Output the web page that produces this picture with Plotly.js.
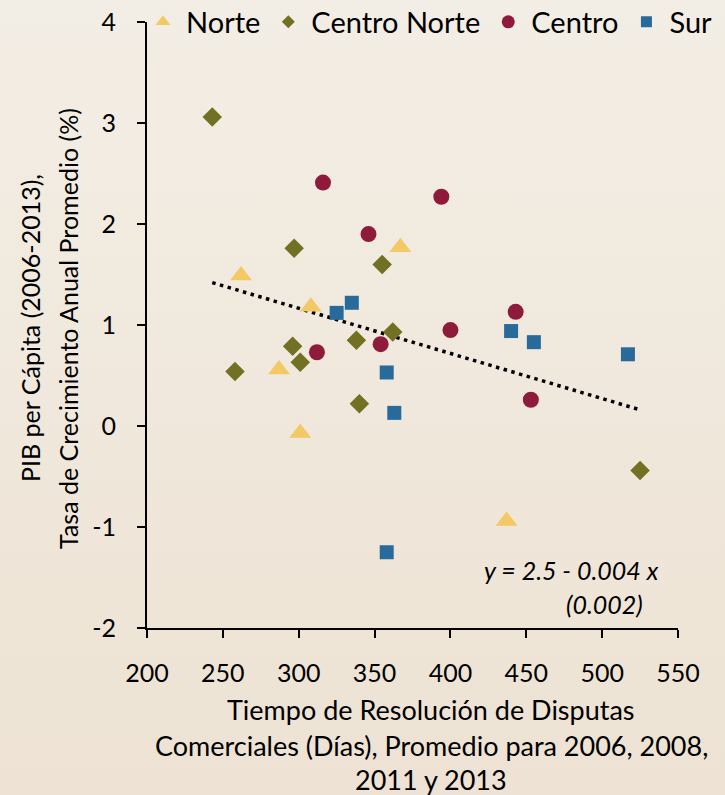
<!DOCTYPE html>
<html>
<head>
<meta charset="utf-8">
<script src="https://cdn.plot.ly/plotly-3.0.1.min.js"></script>
<style>
  html, body { margin: 0; padding: 0; }
  body { width: 725px; height: 795px; background: linear-gradient(to bottom, #F3EEE5 0%, #EDE2D3 100%); }
  #chart { width: 725px; height: 795px; }
</style>
</head>
<body>
<div id="chart"></div>
<script>
// ---- data ----
const regions = ["Norte", "Centro Norte", "Centro", "Sur"];

const norteX = [262, 367, 308, 287, 301, 437];
const norteY = [1.49, 1.77, 1.18, 0.56, -0.07, -0.94];

const centroNorteX = [243, 297, 355, 258, 296, 301, 338, 362, 340, 525];
const centroNorteY = [3.06, 1.76, 1.60, 0.54, 0.79, 0.63, 0.85, 0.93, 0.22, -0.44];

const centroX = [316, 346, 394, 312, 354, 400, 443, 453];
const centroY = [2.41, 1.90, 2.27, 0.73, 0.81, 0.95, 1.13, 0.26];

const surX = [325, 335, 358, 363, 440, 455, 517, 358];
const surY = [1.12, 1.22, 0.53, 0.13, 0.94, 0.83, 0.71, -1.25];

// fitted line as drawn (endpoints)
const trendX = [243, 525];
const trendY = [1.42, 0.16];

const xTicks = [200, 250, 300, 350, 400, 450, 500, 550];
const yTicks = [-2, -1, 0, 1, 2, 3, 4];

const equationText = "y = 2.5 - 0.004 x";
const seText = "(0.002)";
const xTitleLines = ["Tiempo de Resolución de Disputas", "Comerciales (Días), Promedio para 2006, 2008,", "2011 y 2013"];
const yTitleLines = ["PIB per Cápita (2006-2013),", "Tasa de Crecimiento Anual Promedio (%)"];

// ---- styles ----
const FONT = "Lato, 'Open Sans', sans-serif";
const colors = ["#F2C964", "#727023", "#8E1B3C", "#286B9B"];
const symbols = ["triangle-up", "diamond", "circle", "square"];
const sizes = [19, 15, 16, 14];
const legendSizes = [13, 10, 13, 11];

const seriesX = [norteX, centroNorteX, centroX, surX];
const seriesY = [norteY, centroNorteY, centroY, surY];

const traces = [];
traces.push({
  x: trendX, y: trendY, mode: "lines", type: "scatter", showlegend: false,
  line: { color: "#000000", width: 3.5, dash: "3.5px,4.5px" }, hoverinfo: "skip"
});
for (let i = 0; i < regions.length; i++) {
  traces.push({
    x: seriesX[i], y: seriesY[i], mode: "markers", type: "scatter", name: regions[i],
    showlegend: false,
    marker: { symbol: symbols[i], size: sizes[i], color: colors[i], line: { width: 0 } }
  });
}
// legend entries (smaller symbols as in the reference)
for (let i = 0; i < regions.length; i++) {
  traces.push({
    x: [null], y: [null], mode: "markers", type: "scatter", name: regions[i],
    showlegend: true,
    marker: { symbol: symbols[i], size: legendSizes[i], color: colors[i], line: { width: 0 } }
  });
}

const axisCommon = {
  showline: true, linecolor: "#000000", linewidth: 2,
  ticks: "outside", ticklen: 8, tickwidth: 2, tickcolor: "#000000",
  showgrid: false, zeroline: false,
  tickfont: { family: FONT, size: 25, color: "#000000" }
};

const xTitleY = [-0.1353, -0.1931, -0.2492];
const titleAnnotations = xTitleLines.map((t, i) => ({
  xref: "paper", yref: "paper", x: 0.535, y: xTitleY[i], xanchor: "center", yanchor: "middle",
  text: t, showarrow: false, font: { family: FONT, size: 27, color: "#000000" }
}));

const layout = {
  width: 725, height: 795,
  margin: { l: 147, r: 47, t: 22, b: 167, pad: 0, autoexpand: false },
  paper_bgcolor: "rgba(0,0,0,0)",
  plot_bgcolor: "rgba(0,0,0,0)",
  font: { family: FONT, color: "#000000" },
  xaxis: Object.assign({}, axisCommon, {
    range: [200, 550], tickmode: "array", tickvals: xTicks, ticktext: xTicks.map(String),
    ticklabelstandoff: 14
  }),
  yaxis: Object.assign({}, axisCommon, {
    range: [-2, 4], tickmode: "array", tickvals: yTicks, ticktext: yTicks.map(String),
    ticklabelstandoff: 16
  }),
  legend: {
    orientation: "h", x: -0.0132, y: 1.0001, xanchor: "left", yanchor: "middle",
    font: { family: FONT, size: 29, color: "#000000" },
    bgcolor: "rgba(0,0,0,0)", itemwidth: 36, traceorder: "normal"
  },
  annotations: [
    { xref: "paper", yref: "paper", x: 0.968, y: 0.0957, xanchor: "right", yanchor: "middle",
      text: "<i>" + equationText + "</i>", showarrow: false, font: { family: FONT, size: 25, color: "#000000" } },
    { xref: "paper", yref: "paper", x: 0.937, y: 0.0396, xanchor: "right", yanchor: "middle",
      text: "<i>" + seText + "</i>", showarrow: false, font: { family: FONT, size: 25, color: "#000000" } },
    { xref: "paper", yref: "paper", x: -0.2204, y: 0.495, xanchor: "center", yanchor: "middle",
      text: yTitleLines[0], textangle: -90, showarrow: false,
      font: { family: FONT, size: 25, color: "#000000" } },
    { xref: "paper", yref: "paper", x: -0.1488, y: 0.495, xanchor: "center", yanchor: "middle",
      text: yTitleLines[1], textangle: -90, showarrow: false,
      font: { family: FONT, size: 25, color: "#000000" } }
  ].concat(titleAnnotations)
};

Plotly.newPlot("chart", traces, layout, { displayModeBar: false, staticPlot: true });
</script>
</body>
</html>
